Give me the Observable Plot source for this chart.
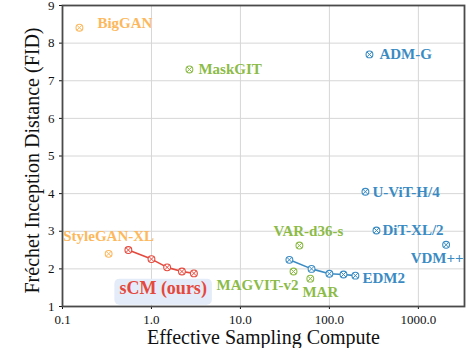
<!DOCTYPE html>
<html>
<head>
<meta charset="utf-8">
<script src="https://cdn.jsdelivr.net/npm/d3@7"></script>
<script src="https://cdn.jsdelivr.net/npm/@observablehq/plot@0.6"></script>
<style>
  html, body { margin: 0; padding: 0; background: #fff; }
</style>
</head>
<body>
<div id="chart"></div>
<script>
// ---- data ----
const models   = ["BigGAN", "MaskGIT", "ADM-G", "StyleGAN-XL", "VAR-d36-s", "MAGVIT-v2", "MAR", "U-ViT-H/4", "DiT-XL/2", "VDM++"];
const compute  = [0.155, 2.67, 282, 0.33, 46, 39.5, 61, 254, 338, 2050];
const fid      = [8.41, 7.30, 7.70, 2.40, 2.62, 1.93, 1.74, 4.05, 3.02, 2.64];
const family   = ["gan", "mask", "diffusion", "gan", "mask", "mask", "mask", "diffusion", "diffusion", "diffusion"];

const scmCompute  = [0.55, 1.0, 1.5, 2.2, 3.0];
const scmFid      = [2.50, 2.26, 2.04, 1.93, 1.88];
const edm2Compute = [35.5, 63, 100, 144, 196];
const edm2Fid     = [2.24, 2.00, 1.87, 1.85, 1.82];

const xTicks = [0.1, 1, 10, 100, 1000];
const yTicks = [1, 2, 3, 4, 5, 6, 7, 8, 9];

// ---- styles ----
const colors = { gan: "#FDB85D", mask: "#8CBB48", diffusion: "#3A8BC3", scm: "#E5483C" };
const labelStyle = {
  "BigGAN":      { dx: 18,  dy: -5,  anchor: "start" },
  "MaskGIT":     { dx: 9,   dy: 0,   anchor: "start" },
  "ADM-G":       { dx: 10,  dy: 0,   anchor: "start" },
  "StyleGAN-XL": { dx: 0,   dy: -18, anchor: "middle" },
  "VAR-d36-s":   { dx: 9,   dy: -14, anchor: "middle" },
  "MAGVIT-v2":   { dx: 5,   dy: 14,  anchor: "end" },
  "MAR":         { dx: 10,  dy: 14,  anchor: "middle" },
  "U-ViT-H/4":   { dx: 7,   dy: 0,   anchor: "start" },
  "DiT-XL/2":    { dx: 6,   dy: 0,   anchor: "start" },
  "VDM++":       { dx: -9,  dy: 13,  anchor: "middle" }
};

const pts = models.map((m, i) => ({ name: m, x: compute[i], y: fid[i], fam: family[i] }));
const scm = scmCompute.map((c, i) => ({ x: c, y: scmFid[i] }));
const edm2 = edm2Compute.map((c, i) => ({ x: c, y: edm2Fid[i] }));

const font = "Liberation Serif, Times New Roman, Times, serif";

function markers(data, color) {
  return [
    Plot.dot(data, { x: "x", y: "y", r: 3.4, fill: "white", stroke: color, strokeWidth: 1.1 }),
    Plot.dot(data, { x: "x", y: "y", r: 2.4, symbol: "times", stroke: color, strokeWidth: 1 })
  ];
}

const labelMarks = pts.map(p => {
  const s = labelStyle[p.name];
  return Plot.text([p], {
    x: "x", y: "y", text: "name", dx: s.dx, dy: s.dy, textAnchor: s.anchor,
    fill: colors[p.fam], fontWeight: "bold", fontSize: 15, fontFamily: font
  });
});

const chart = Plot.plot({
  width: 466,
  height: 348,
  marginLeft: 62,
  marginRight: 2,
  marginTop: 5,
  marginBottom: 42,
  style: { fontFamily: font, background: "white", color: "#111" },
  x: { type: "log", domain: [0.1, 3300] },
  y: { domain: [1, 9] },
  marks: [
    Plot.gridX(xTicks, { stroke: "#d6d6d6", strokeOpacity: 1, strokeWidth: 1 }),
    Plot.gridY(yTicks, { stroke: "#d6d6d6", strokeOpacity: 1, strokeWidth: 1 }),
    Plot.axisX(xTicks, {
      tickFormat: d => d.toFixed(1), tickSize: 3, tickPadding: 5, fontSize: 13, fontFamily: font,
      label: "Effective Sampling Compute", labelAnchor: "center", labelOffset: 37, labelArrow: "none"
    }),
    Plot.axisY(yTicks, {
      tickSize: 3, tickPadding: 5, fontSize: 13, fontFamily: font,
      label: "Fréchet Inception Distance (FID)", labelAnchor: "center", labelOffset: 38, labelArrow: "none"
    }),
    Plot.frame({ stroke: "#4a4a4a", strokeWidth: 1.8 }),
    Plot.line(scm, { x: "x", y: "y", stroke: colors.scm, strokeWidth: 1.6 }),
    Plot.line(edm2, { x: "x", y: "y", stroke: colors.diffusion, strokeWidth: 1.6 }),
    ...markers(scm, colors.scm),
    ...markers(edm2, colors.diffusion),
    ...["gan", "mask", "diffusion"].map(f => markers(pts.filter(p => p.fam === f), colors[f])).flat(),
    ...labelMarks,
    Plot.text([edm2[edm2.length - 1]], {
      x: "x", y: "y", text: () => "EDM2", dx: 7, dy: 3, textAnchor: "start",
      fill: colors.diffusion, fontWeight: "bold", fontSize: 15, fontFamily: font
    }),
    Plot.text([scm[2]], {
      x: "x", y: "y", text: () => "sCM (ours)", dx: -4, dy: 21, textAnchor: "middle",
      fill: colors.scm, fontWeight: "bold", fontSize: 18, fontFamily: font, className: "scm-label"
    })
  ]
});

document.getElementById("chart").appendChild(chart);

// axis label sizes
chart.querySelectorAll('[aria-label="x-axis label"], [aria-label="y-axis label"]').forEach(g => {
  const isY = g.getAttribute("aria-label")[0] === "y";
  g.setAttribute("font-size", 20);
  g.setAttribute("font-family", font);
  g.querySelectorAll("text").forEach(t => {
    t.setAttribute("font-size", 20);
    if (isY) t.setAttribute("x", -4.5);
  });
});

// rounded background box behind the sCM label
const scmText = chart.querySelector(".scm-label text");
if (scmText) {
  const bb = scmText.getBBox();
  const ctm = scmText.getAttribute("transform");
  const rect = document.createElementNS("http://www.w3.org/2000/svg", "rect");
  rect.setAttribute("x", bb.x - 5);
  rect.setAttribute("y", bb.y + 0.5);
  rect.setAttribute("width", bb.width + 10);
  rect.setAttribute("height", bb.height + 5);
  rect.setAttribute("rx", 5);
  rect.setAttribute("fill", "#E3ECF8");
  if (ctm) rect.setAttribute("transform", ctm);
  scmText.parentNode.insertBefore(rect, scmText);
}
</script>
</body>
</html>
